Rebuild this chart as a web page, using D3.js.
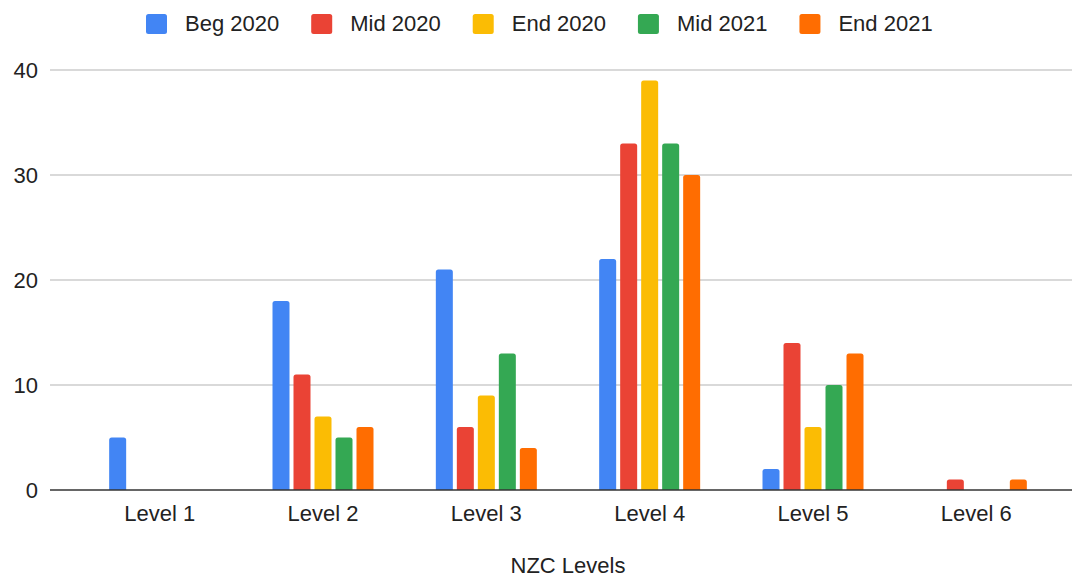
<!DOCTYPE html>
<html>
<head>
<meta charset="utf-8">
<script src="https://cdn.jsdelivr.net/npm/d3@7"></script>
<style>
  html, body { margin: 0; padding: 0; background: #fff; }
  svg { display: block; font-family: "Liberation Sans", Arial, sans-serif; }
</style>
</head>
<body>
<svg id="chart" width="1072" height="578"></svg>
<script>
const categories = ["Level 1", "Level 2", "Level 3", "Level 4", "Level 5", "Level 6"];
const seriesNames = ["Beg 2020", "Mid 2020", "End 2020", "Mid 2021", "End 2021"];
const seriesColors = ["#4285F4", "#EA4335", "#FBBC04", "#34A853", "#FF6D01"];
const beg2020 = [5, 18, 21, 22, 2, 0];
const mid2020 = [0, 11, 6, 33, 14, 1];
const end2020 = [0, 7, 9, 39, 6, 0];
const mid2021 = [0, 5, 13, 33, 10, 0];
const end2021 = [0, 6, 4, 30, 13, 1];
const yTicks = [0, 10, 20, 30, 40];
const xAxisTitle = "NZC Levels";

const seriesValues = [beg2020, mid2020, end2020, mid2021, end2021];

const svg = d3.select("#chart");
const FS = 22;
const plot = { left: 78, right: 1058, top: 70, bottom: 490, gridLeft: 50, gridRight: 1072 };

const y = d3.scaleLinear().domain([0, 40]).range([plot.bottom, plot.top]);
const x0 = d3.scaleBand().domain(categories).range([plot.left, plot.right]).padding(0);
const groupW = 101;
const x1 = d3.scaleBand().domain(seriesNames)
  .range([(x0.bandwidth() - groupW) / 2, (x0.bandwidth() + groupW) / 2])
  .paddingInner(4 / 21).paddingOuter(0);

// gridlines
svg.append("g").selectAll("line").data(yTicks.filter(d => d !== 0)).join("line")
  .attr("x1", plot.gridLeft).attr("x2", plot.gridRight)
  .attr("y1", d => y(d)).attr("y2", d => y(d))
  .attr("stroke", "#cccccc").attr("stroke-width", 1.3);

// y tick labels
svg.append("g").selectAll("text").data(yTicks).join("text")
  .attr("x", 38).attr("y", d => y(d)).attr("dy", "0.35em")
  .attr("text-anchor", "end").attr("font-size", FS).attr("fill", "#222")
  .text(d => d);

// bars
function topRounded(x, yTop, w, h, r) {
  r = Math.min(r, h, w / 2);
  return `M${x},${yTop + h}V${yTop + r}Q${x},${yTop} ${x + r},${yTop}H${x + w - r}Q${x + w},${yTop} ${x + w},${yTop + r}V${yTop + h}Z`;
}
const barData = [];
categories.forEach((c, i) => {
  seriesNames.forEach((s, j) => {
    barData.push({ cat: c, series: s, value: seriesValues[j][i], color: seriesColors[j] });
  });
});
svg.append("g").selectAll("path").data(barData.filter(d => d.value > 0)).join("path")
  .attr("d", d => {
    const bx = x0(d.cat) + x1(d.series);
    const by = y(d.value);
    return topRounded(bx, by, x1.bandwidth(), y(0) - by, 2.5);
  })
  .attr("fill", d => d.color);

// baseline
svg.append("line")
  .attr("x1", plot.gridLeft).attr("x2", plot.gridRight)
  .attr("y1", y(0)).attr("y2", y(0))
  .attr("stroke", "#333").attr("stroke-width", 1.5);

// x labels
svg.append("g").selectAll("text").data(categories).join("text")
  .attr("x", d => x0(d) + x0.bandwidth() / 2).attr("y", 521)
  .attr("text-anchor", "middle").attr("font-size", FS).attr("fill", "#222")
  .text(d => d);

// axis title
svg.append("text")
  .attr("x", (plot.left + plot.right) / 2).attr("y", 573)
  .attr("text-anchor", "middle").attr("font-size", FS).attr("fill", "#222")
  .text(xAxisTitle);

// legend
const legend = svg.append("g");
let lx = 146;
seriesNames.forEach((s, j) => {
  const g = legend.append("g");
  g.append("rect").attr("x", lx).attr("y", 14).attr("width", 21).attr("height", 20)
    .attr("rx", 2.5).attr("fill", seriesColors[j]);
  const t = g.append("text").attr("x", lx + 39).attr("y", 31)
    .attr("font-size", FS).attr("fill", "#222").text(s);
  const tw = t.node().getComputedTextLength();
  lx = lx + 39 + tw + 32;
});
</script>
</body>
</html>
